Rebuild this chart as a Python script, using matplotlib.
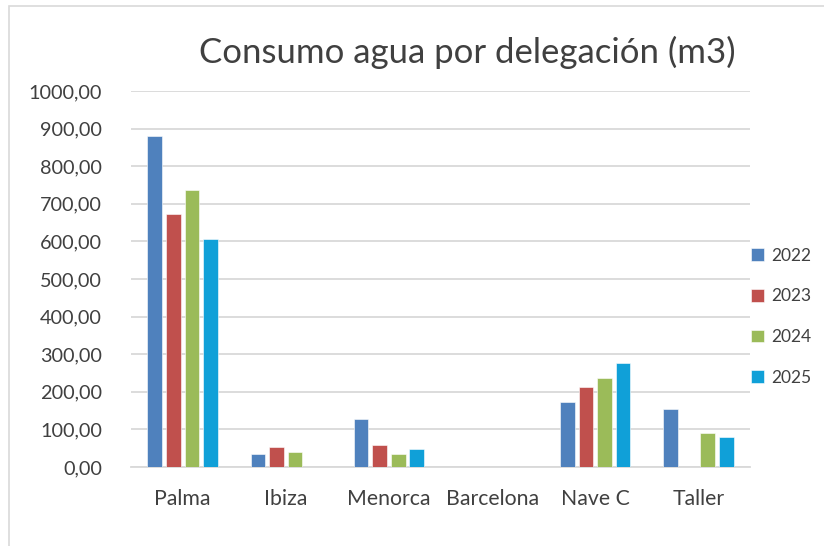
import numpy as np
import matplotlib.pyplot as plt
from matplotlib.patches import Rectangle

categories = ['Palma', 'Ibiza', 'Menorca', 'Barcelona', 'Nave C', 'Taller']
years = ['2022', '2023', '2024', '2025']
v2022 = [880, 35, 128, 0, 173, 154]
v2023 = [673, 54, 58, 0, 214, 0]
v2024 = [736, 39, 34, 0, 238, 90]
v2025 = [606, 0, 47, 0, 277, 80]
series = [v2022, v2023, v2024, v2025]
colors = ['#4f81bd', '#c0504d', '#9bbb59', '#10a0d8']

plt.rcParams['font.family'] = ['Lato', 'DejaVu Sans']
text_col = '#404040'

fig = plt.figure(figsize=(8.24, 5.46), dpi=100)
ax = fig.add_axes([131 / 824, 1 - 467 / 546, 619 / 824, 376 / 546])

# chart frame (cropped on right and bottom)
fig.patches.append(Rectangle((9 / 824, -0.1), 1.2, 1 - 6 / 546 + 0.1, transform=fig.transFigure,
                             fill=False, edgecolor='#d9d9d9', linewidth=1.2))

x = np.arange(len(categories))
step = 0.18
width = 0.142
for i, (vals, col, yr) in enumerate(zip(series, colors, years)):
    ax.bar(x + (i - 1.5) * step, vals, width, color=col, label=yr,
           edgecolor='white', linewidth=0.4, zorder=3)

ax.set_xlim(-0.5, len(categories) - 0.5)
ax.set_ylim(0, 1000)
ax.set_yticks(np.arange(0, 1001, 100))
ax.set_yticklabels(['%d,00' % v for v in range(0, 1001, 100)])
ax.set_xticks(x)
ax.set_xticklabels(categories)
ax.grid(axis='y', color='#d9d9d9', linewidth=1.3, zorder=0)
for s in ['top', 'right', 'left']:
    ax.spines[s].set_visible(False)
ax.spines['bottom'].set_color('#d9d9d9')
ax.spines['bottom'].set_linewidth(1.3)
ax.tick_params(axis='both', length=0, colors=text_col)
ax.tick_params(axis='y', labelsize=14.3, pad=21)
ax.tick_params(axis='x', labelsize=15.3, pad=16)

fig.text(467 / 824, 1 - 52 / 546, 'Consumo agua por delegación (m3)', ha='center', va='center',
         fontsize=25, color=text_col)

ax.legend(loc='upper left', bbox_to_anchor=(742 / 824, 1 - 239 / 546), bbox_transform=fig.transFigure,
          frameon=False, fontsize=12.5, labelcolor=text_col, handlelength=0.75, handleheight=0.75,
          handletextpad=0.45, labelspacing=1.42, borderpad=0)

fig.savefig('out.png', dpi=100)
